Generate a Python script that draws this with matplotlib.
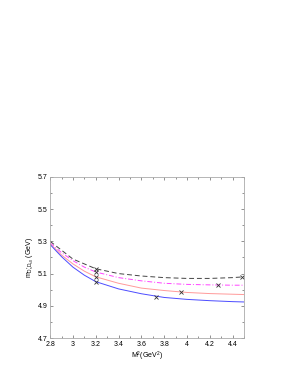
import numpy as np
import matplotlib
matplotlib.use('Agg')
import matplotlib.pyplot as plt
from matplotlib.ticker import MultipleLocator

plt.rcParams['font.family'] = ['Liberation Sans', 'DejaVu Sans']
plt.rcParams['mathtext.fontset'] = 'custom'
plt.rcParams['mathtext.rm'] = 'Liberation Sans'
plt.rcParams['mathtext.it'] = 'Liberation Sans'

# Borel parameter M^2 (GeV^2)
m2 = [2.8, 2.9, 3.0, 3.1, 3.2, 3.4, 3.6, 3.8, 4.0, 4.2, 4.4, 4.5]

# masses (GeV)
m_black = [5.300, 5.245, 5.190, 5.160, 5.130, 5.100, 5.085, 5.075, 5.070, 5.070, 5.075, 5.080]
m_magenta = [5.290, 5.230, 5.180, 5.140, 5.110, 5.075, 5.055, 5.040, 5.033, 5.030, 5.028, 5.028]
m_salmon = [5.285, 5.215, 5.160, 5.115, 5.080, 5.040, 5.010, 4.995, 4.983, 4.976, 4.972, 4.970]
m_blue = [5.280, 5.205, 5.140, 5.090, 5.050, 5.005, 4.975, 4.952, 4.940, 4.932, 4.926, 4.924]

# cross markers on each curve
mark_x = [[3.2, 4.48], [3.2, 4.27], [3.2, 3.945], [3.2, 3.73]]
mark_y = [[5.13, 5.08], [5.11, 5.03], [5.08, 4.985], [5.05, 4.953]]

xticks = [2.8, 3.0, 3.2, 3.4, 3.6, 3.8, 4.0, 4.2, 4.4]
xticklabels = ['2.8', '3', '3.2', '3.4', '3.6', '3.8', '4', '4.2', '4.4']
yticks = [4.7, 4.9, 5.1, 5.3, 5.5, 5.7]

fig = plt.figure(figsize=(2.95, 3.82), dpi=100)
ax = fig.add_axes([0.170, 0.115, 0.657, 0.422])

ax.plot(m2, m_black, color='#444444', ls=(0, (5, 3)), lw=0.7)
ax.plot(m2, m_magenta, color='#ff44ff', ls=(0, (5, 2, 1, 2)), lw=0.7)
ax.plot(m2, m_salmon, color='#ff9a9a', ls='-', lw=0.7)
ax.plot(m2, m_blue, color='#4c4cff', ls='-', lw=0.7)

for xs, ys in zip(mark_x, mark_y):
    ax.plot(xs, ys, ls='none', marker='x', color='#333333', ms=2.5, mew=0.6)

ax.set_xlim(2.8, 4.5)
ax.set_ylim(4.7, 5.7)
ax.set_xticks(xticks)
ax.set_xticklabels(xticklabels)
ax.set_yticks(yticks)
ax.set_yticklabels(['%.1f' % v for v in yticks])
ax.xaxis.set_minor_locator(MultipleLocator(0.1))
ax.yaxis.set_minor_locator(MultipleLocator(0.1))
ax.tick_params(which='both', direction='in', top=True, right=True,
               labelsize=5, color='#666666', width=0.5, pad=2)
ax.tick_params(which='major', length=2.5)
ax.tick_params(which='minor', length=1.5)
for s in ax.spines.values():
    s.set_color('#aaaaaa')
    s.set_linewidth(0.6)

ax.set_xlabel(r'M$^2$(GeV$^2$)', fontsize=5, labelpad=1)
ax.set_ylabel(r'm$_{D_s^{*}D_{s0}}$ (GeV)', fontsize=5, labelpad=1)

fig.savefig('out.png', dpi=100)
